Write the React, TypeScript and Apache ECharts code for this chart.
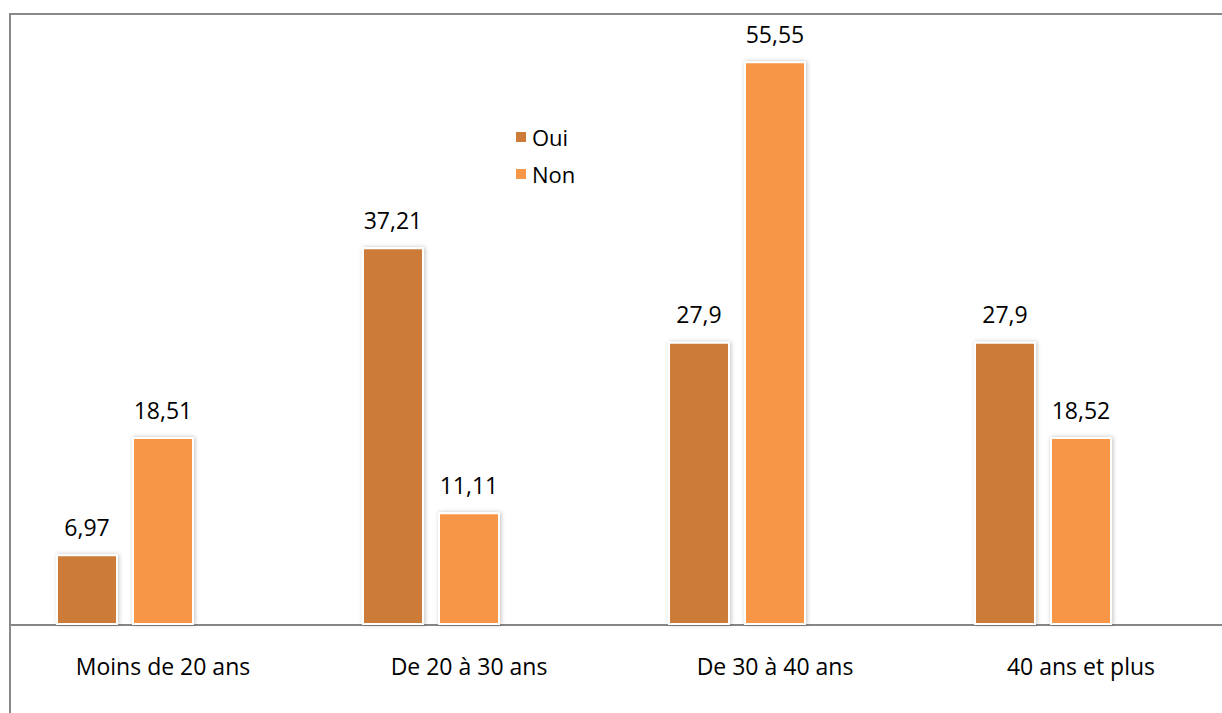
import React, { useEffect, useRef } from "react";
import * as echarts from "echarts";

// Age groups and the share (%) answering Oui / Non in each
const categories = ["Moins de 20 ans", "De 20 à 30 ans", "De 30 à 40 ans", "40 ans et plus"];
const ouiValues = [6.97, 37.21, 27.9, 27.9];
const nonValues = [18.51, 11.11, 55.55, 18.52];
const ouiLabels = ["6,97", "37,21", "27,9", "27,9"];
const nonLabels = ["18,51", "11,11", "55,55", "18,52"];
// third slot in each group is left empty
const emptyValues = [null, null, null, null];

const FONT = "'Open Sans', 'Noto Sans', sans-serif";

export default function App() {
  const ref = useRef<HTMLDivElement>(null);

  useEffect(() => {
    if (!ref.current) return;
    const chart = echarts.init(ref.current, undefined, { renderer: "svg" });

    const barStyle = (color: string) => ({
      color,
      borderColor: "#ffffff",
      borderWidth: 2,
      shadowBlur: 4,
      shadowColor: "rgba(0,0,0,0.25)",
      shadowOffsetX: 1,
      shadowOffsetY: 0,
    });

    const labelFor = (texts: string[]) => ({
      show: true,
      position: "top" as const,
      distance: 16,
      color: "#000",
      fontFamily: FONT,
      fontSize: 23,
      formatter: (p: any) => texts[p.dataIndex],
    });

    chart.setOption({
      animation: false,
      backgroundColor: "#ffffff",
      graphic: [
        {
          type: "rect",
          shape: { x: 10, y: 14, width: 1400, height: 900 },
          style: { fill: "none", stroke: "#898989", lineWidth: 2 },
          z: 0,
        },
      ],
      legend: {
        orient: "vertical",
        left: 509,
        top: 121,
        data: ["Oui", "Non"],
        icon: "rect",
        itemWidth: 12,
        itemHeight: 12,
        itemGap: 15,
        textStyle: { fontFamily: FONT, fontSize: 22, color: "#000" },
      },
      grid: { left: 10, top: 16, width: 1224, height: 609 },
      xAxis: {
        type: "category",
        data: categories,
        axisLine: { show: true, lineStyle: { color: "#868686", width: 2 } },
        axisTick: { show: false },
        axisLabel: { color: "#000", fontFamily: FONT, fontSize: 23, margin: 29 },
        splitLine: { show: false },
      },
      yAxis: {
        type: "value",
        min: 0,
        max: 60,
        show: false,
        splitLine: { show: false },
      },
      series: [
        {
          name: "Oui",
          type: "bar",
          data: ouiValues,
          barWidth: 62,
          barGap: "22.6%",
          itemStyle: barStyle("#CC7B39"),
          label: labelFor(ouiLabels),
        },
        {
          name: "Non",
          type: "bar",
          data: nonValues,
          barWidth: 62,
          barGap: "22.6%",
          itemStyle: barStyle("#F79646"),
          label: labelFor(nonLabels),
        },
        {
          name: "empty",
          type: "bar",
          data: emptyValues,
          barWidth: 62,
          barGap: "22.6%",
        },
      ],
    });

    return () => chart.dispose();
  }, []);

  return (
    <div style={{ position: "fixed", left: 0, top: 0, width: 1222, height: 713, overflow: "hidden", background: "#fff" }}>
      <div ref={ref} style={{ width: 1250, height: 713 }} />
    </div>
  );
}
